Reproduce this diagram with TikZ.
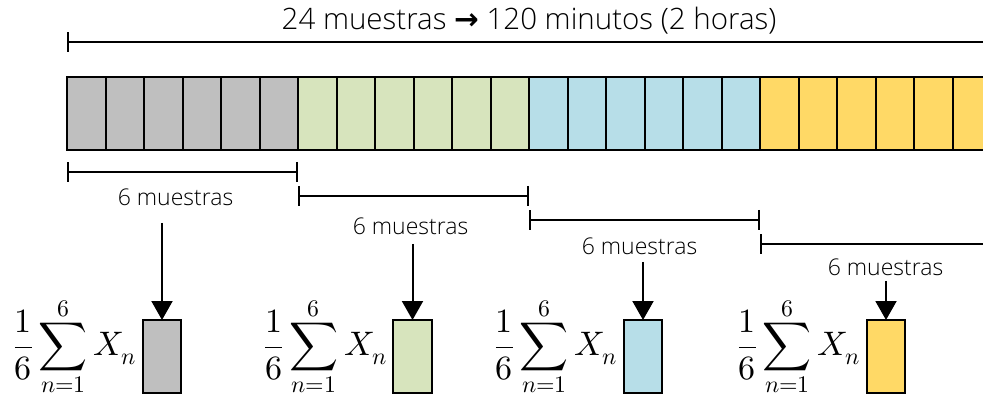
\documentclass[tikz,border=0pt]{standalone}
\usepackage{amsmath}
\usepackage{fontspec}
\usepackage{unicode-math}
\setmainfont{Open Sans Light}
\setmathfont{Latin Modern Math}
\newfontfamily\arrowfont{DejaVu Sans}
\usetikzlibrary{arrows.meta, positioning}
\definecolor{SampleGray}{RGB}{191, 191, 191}
\definecolor{SampleGreen}{RGB}{215, 228, 189}
\definecolor{SampleBlue}{RGB}{183, 222, 232}
\definecolor{SampleYellow}{RGB}{255, 217, 102}

\begin{document}
\begin{tikzpicture}[
    x=1pt, y=-1pt,
    cell/.style={draw, line width=2pt, rectangle, outer sep=0pt, inner sep=0pt, minimum width=38.5pt, minimum height=73pt},
    span/.style={{Bar[width=20pt]}-{Bar[width=20pt]}, line width=2pt},
    lbl/.style={font=\fontsize{23}{27}\selectfont, inner sep=0pt},
    toplbl/.style={font=\fontsize{29.5}{33}\selectfont, inner sep=0pt},
    arrow/.style={-{Triangle[width=21pt, length=19pt]}, line width=2pt},
    mean/.style={font=\fontsize{34}{40}\selectfont, inner sep=0pt}
]
\clip (0,0) rectangle (983,398);

\foreach \g/\col in {0/SampleGray, 1/SampleGreen, 2/SampleBlue, 3/SampleYellow}
  \foreach \k in {1,...,6} {
    \pgfmathtruncatemacro\i{6*\g+\k}
    \node (c\i) [cell, fill=\col] at ({67+38.5*(\i-0.5)}, 113.5) {};
  }

\draw [span] (c1.west |- 0,42) -- node[toplbl, above=7pt] (total) {24 muestras {\arrowfont\bfseries →} 120 minutos (2 horas)} (c24.east |- 0,42);

\draw [span] (c1.west |- 0,172) -- node[lbl, below=16pt, xshift=-7pt] (lbl1) {6 muestras} (c6.east |- 0,172);
\draw [span] (c7.west |- 0,196) -- node[lbl, below=21pt, xshift=-3pt] (lbl2) {6 muestras} (c12.east |- 0,196);
\draw [span] (c13.west |- 0,220) -- node[lbl, below=17pt, xshift=-5pt] (lbl3) {6 muestras} (c18.east |- 0,220);
\draw [span] (c19.west |- 0,244) -- node[lbl, below=14pt, xshift=10pt] (lbl4) {6 muestras} (c24.east |- 0,244);

\node (avg1) [cell, fill=SampleGray] at (162, 356.5) {};
\node (avg2) [cell, fill=SampleGreen] at (412.5, 356.5) {};
\node (avg3) [cell, fill=SampleBlue] at (643, 356.5) {};
\node (avg4) [cell, fill=SampleYellow] at (886, 356.5) {};

\node (sum1) [mean, left=6pt of avg1, yshift=10pt] {$\displaystyle\frac{1}{6}\sum_{n=1}^{6}X_n$};
\node (sum2) [mean, left=6pt of avg2, yshift=10pt] {$\displaystyle\frac{1}{6}\sum_{n=1}^{6}X_n$};
\node (sum3) [mean, left=6pt of avg3, yshift=10pt] {$\displaystyle\frac{1}{6}\sum_{n=1}^{6}X_n$};
\node (sum4) [mean, left=6pt of avg4, yshift=10pt] {$\displaystyle\frac{1}{6}\sum_{n=1}^{6}X_n$};

\draw [arrow, shorten <=16pt] (avg1.north |- lbl1.south) -- (avg1.north);
\draw [arrow, shorten <=8pt] (avg2.north |- lbl2.south) -- (avg2.north);
\draw [arrow, shorten <=6pt] (avg3.north |- lbl3.south) -- (avg3.north);
\draw [arrow, shorten <=4pt] (avg4.north |- lbl4.south) -- (avg4.north);

\end{tikzpicture}
\end{document}
